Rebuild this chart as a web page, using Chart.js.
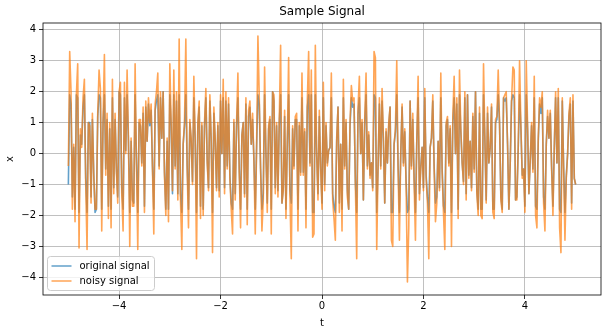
<!DOCTYPE html>
<html lang="en">
<head>
    <meta charset="UTF-8">
    <title>Sample Signal</title>
    <script src="https://cdnjs.cloudflare.com/ajax/libs/Chart.js/4.4.1/chart.umd.min.js"></script>
    <style>
        body { margin: 0; background: #fff; }
    </style>
</head>
<body>
    <canvas id="signalChart" width="608" height="333"></canvas>

    <script>
        // values, one sample every ~0.026 in t
        const tStart = -5;
        const tEnd = 5;

        const noisySignal = [
            -0.4, 3.3, 2.0, -1.8, 0.3, -2.2, 1.9, 2.9, -3.05, 0.8, 0.2, 1.8, 2.4, -1.0, -3.1, 1.0, 0.9, -1.6, 1.3, -0.7,
            -1.8, -1.8, 1.3, 2.7, 2.1, -2.5, 1.1, 3.2, -0.7, 1.3, -2.1, 1.0, -2.4, 2.4, -1.3, 1.3, -0.6, -1.6, 2.0, 2.3,
            -1.3, -2.5, 2.3, 0.0, 2.7, 0.5, -3.0, 0.5, -1.7, -1.7, 2.9, -0.3, -3.1, 1.1, 1.1, -0.4, 1.5, -1.9, 1.7, 0.4, 1.8,
            1.0, 1.6, -0.5, -2.6, 1.6, 2.0, 2.6, -0.5, 2.0, 0.5, 2.0, -0.7, -2.0, 0.5, -2.2, 2.9, 1.0, -1.2, 2.7, -0.5,
            2.0, -1.5, 3.7, -1.5, -3.1, 0.3, 1.0, 3.7, -0.5, -2.4, 1.1, 0.5, -1.0, 2.5, 0.5, -3.4, 1.0, 1.7, -2.1, 1.0,
            -2.0, 1.0, 2.1, -0.3, -1.2, 1.9, 0.5, -3.2, 1.5, 0.5, -1.2, 1.0, -1.4, 1.9, 0.0, 2.4, -1.3, 2.0, -0.5, 1.8, -0.8,
            -1.8, -2.6, 1.1, -1.5, 1.0, 2.6, -0.6, -2.4, 0.6, 1.0, -1.4, 1.8, -2.3, 1.4, 1.7, 0.3, 1.3, -0.2, -2.6, 0.2,
            3.8, 1.8, -0.5, -2.5, -1.5, 2.8, 0.0, -1.9, 0.9, 1.2, -2.6, 2.0, 1.9, -1.3, 1.0, -1.4, 1.1, 3.5, -1.6, -1.2,
            1.4, -2.1, 0.3, 3.1, -1.4, -3.4, 0.9, -0.5, 1.2, 1.3, -2.5, 1.0, -0.7, 2.6, -0.7, 0.8, -2.4, 1.7, 3.3, -0.4,
            2.7, -2.7,
            -2.6, 3.5, 0.0, -1.5, 1.4, -0.5, -1.8, 2.3, -1.2, 1.0, -0.4, 0.1, 0.2, 2.6, -1.5, -2.1, -2.8, 0.5, 1.5, -1.9,
            0.3, -2.5, 2.4, -0.5, 1.1, -1.4, -1.8, 1.0, 2.2, 1.7, 1.8, -1.0, -3.4, 1.5, 2.5, 0.0, 1.1, -1.5, 1.1, 2.6,
            -0.5, 0.7, -0.8, -0.3, -1.2, 3.3, 3.1, -3.1, -0.5, 1.8, -0.5, 2.1, 0.5, -1.6, 0.8, -0.3, 1.0, 1.5, -2.8, -3.0,
            0.3, 0.8, 3.0,
            -0.5, -2.8, 0.0, 1.6, -0.4, 0.8, -1.0, -4.15, -2.4, 1.7, -0.5, 1.3, -0.9, -2.8, 0.4, 2.5, -1.5, -0.5, 0.2, -1.2,
            2.1, -0.8, -1.6, -3.4, 0.2, 0.5, 1.9, -0.5, -2.2, -1.6, 0.4, -1.2, 2.6, -0.6, -1.9, -3.1, 1.0, 1.2, -0.4, 0.9,
            -3.0, 1.2, 2.5, 0.0, 1.8, -2.1, 2.7, 0.8, -0.3, -1.0, 2.0, -1.5, 1.9, -0.8, 0.4, -1.2, 1.3, -0.6, 2.0, -1.3,
            -2.0, 1.5, -2.0,
            -2.1, 2.9, 0.5, -1.6, 1.5, -0.3, 0.2, 1.6, -1.9, -2.1, 1.1, 1.2, 2.7, 1.0, -1.5, -1.9, 1.8, 1.9, 2.0, 0.3,
            -1.8, -0.3, 1.7, 2.8, 2.7, -1.5, -1.5, 0.2, 3.0, 0.9, -0.8, -0.5, -1.9, 3.0, 0.9, -1.3, -0.2, 1.0, -0.6, 2.5,
            -2.0, -2.4, 0.5, 1.8, 1.5, 2.0, -1.6, -2.5, 0.3, 1.4, 0.5, 1.4, -0.5, -2.0, 0.2, 2.0, -0.3, 2.1, -2.4, -3.2,
            1.8, -0.5, -2.8, -0.8, 0.0, 1.3, 1.8, -1.8, 1.9, -0.8, -1.0
        ];

        const originalSignal = [
            -1.0, 1.9, 1.6, -1.4, 0.2, -1.8, 1.9, 1.8, -1.9, 0.6, 0.3, 1.5, 1.9, -0.8, -1.9, 1.0, 1.0, -1.4, 1.1, -0.6,
            -1.9, -1.8, 1.2, 1.9, 1.8, -1.8, 1.0, 1.9, -0.5, 1.1, -1.7, 0.8, -1.8, 1.8, -1.1, 1.1, -0.5, -1.4, 2.0, 1.9,
            -1.1, -1.8, 1.8, 0.1, 1.9, 0.4, -1.9, 0.4, -1.5, -1.6, 1.9, -0.2, -1.9, 1.0, 0.9, -0.3, 1.3, -1.7, 1.5, 0.4, 1.6,
            0.9, 1.4, -0.4, -1.8, 1.4, 1.7, 1.9, -0.4, 1.8, 0.5, 2.0, -0.6, -1.8, 0.4, -1.8, 1.9, 0.9, -1.3, 1.9, -0.4,
            1.7, -1.3, 1.9, -1.3, -1.9, 0.3, 0.9, 1.9, -0.4, -1.8, 1.0, 0.4, -0.9, 1.8, 0.4, -1.9, 0.9, 1.5, -1.7, 0.9,
            -1.8, 0.9, 1.8, -0.2, -1.1, 1.7, 0.4, -1.9, 1.3, 0.4, -1.1, 0.9, -1.2, 1.7, 0.0, 1.8, -1.1, 1.7, -0.4, 1.6, -0.7,
            -1.6, -1.8, 1.0, -1.3, 0.9, 1.8, -0.5, -1.8, 0.6, 1.0, -1.3, 1.6, -1.8, 1.2, 1.5, 0.3, 1.1, -0.2, -1.8, 0.2,
            1.9, 1.6, -0.5, -1.8, -1.3, 1.9, 0.0, -1.6, 0.8, 1.1, -1.8, 2.0, 1.7, -1.1, 0.9, -1.2, 1.0, 1.9, -1.6, -1.1,
            1.2, -1.8, 0.3, 1.9, -1.2, -1.6, 0.8, -0.4, 1.1, 1.1, -1.8, 0.9, -0.6, 1.8, -0.6, 0.7, -1.8, 1.5, 1.9, -0.3,
            1.9, -1.9,
            -1.9, 1.9, 0.0, -1.3, 1.2, -0.4, -1.6, 1.8, -1.0, 0.9, -0.3, 0.1, 0.2, 1.8, -1.3, -1.7, -1.9, 0.4, 1.5, -1.6,
            0.3, -1.8, 1.8, -0.4, 1.0, -1.2, -1.8, 0.9, 1.8, 1.5, 1.6, -0.9, -1.9, 1.3, 1.8, 0.0, 1.0, -1.5, 1.0, 1.9,
            -0.4, 0.6, -0.7, -0.3, -1.1, 1.9, 1.8, -1.9, -0.4, 1.6, -0.4, 1.7, 0.4, -1.6, 0.7, -0.3, 0.9, 1.5, -1.9, -1.9,
            0.3, 0.7, 1.9,
            -0.4, -1.9, 0.0, 1.5, -0.3, 0.7, -0.9, -1.9, -1.8, 1.7, -0.4, 1.1, -0.8, -1.9, 0.4, 1.8, -1.3, -0.4, 0.2, -1.1,
            1.8, -0.7, -1.4, -1.9, 0.2, 0.5, 1.7, -0.4, -1.6, -1.4, 0.4, -1.1, 1.8, -0.5, -1.7, -1.9, 0.9, 1.1, -0.3, 0.8,
            -1.9, 1.0, 1.8, 0.0, 1.6, -1.8, 1.9, 0.7, -0.3, -0.9, 1.8, -1.3, 1.9, -0.7, 0.4, -1.1, 1.2, -0.5, 2.0, -1.2,
            -1.8, 1.3, -1.8,
            -1.8, 1.9, 0.5, -1.5, 1.3, -0.3, 0.2, 1.5, -1.8, -1.8, 1.0, 1.1, 1.9, 1.0, -1.4, -1.8, 1.8, 1.7, 1.8, 0.3,
            -1.8, -0.3, 1.7, 1.9, 1.8, -1.5, -1.4, 0.2, 1.9, 0.8, -0.7, -0.5, -1.7, 1.9, 0.8, -1.3, -0.2, 0.9, -0.5, 1.8,
            -1.7, -1.8, 0.4, 1.6, 1.3, 1.8, -1.4, -1.8, 0.3, 1.2, 0.5, 1.3, -0.4, -1.7, 0.2, 1.8, -0.3, 1.8, -1.8, -1.9,
            1.7, -0.4, -1.9, -0.7, 0.0, 1.2, 1.6, -1.6, 1.7, -0.8, -1.0
        ];

        const xTicks = [-4, -2, 0, 2, 4];
        const yTicks = [-4, -3, -2, -1, 0, 1, 2, 3, 4];

        const step = (tEnd - tStart) / (noisySignal.length - 1);
        const tValues = noisySignal.map((_, i) => tStart + i * step);

        const FONT = 'DejaVu Sans';
        const minusSign = v => String(v).replace('-', '\u2212');

        // title, axes frame and legend the way matplotlib draws them
        const decorations = {
            id: 'decorations',
            afterDraw(chart) {
                const { ctx, chartArea: a } = chart;
                ctx.save();

                ctx.strokeStyle = '#000';
                ctx.lineWidth = 0.8;
                ctx.strokeRect(a.left, a.top, a.right - a.left, a.bottom - a.top);

                ctx.fillStyle = '#000';
                ctx.font = '12px "' + FONT + '"';
                ctx.textAlign = 'center';
                ctx.textBaseline = 'middle';
                ctx.fillText('Sample Signal', (a.left + a.right) / 2, 12);

                // legend box
                const bx = a.left + 4.5, by = a.bottom - 38.5, bw = 107, bh = 34, r = 3;
                ctx.beginPath();
                ctx.moveTo(bx + r, by);
                ctx.arcTo(bx + bw, by, bx + bw, by + bh, r);
                ctx.arcTo(bx + bw, by + bh, bx, by + bh, r);
                ctx.arcTo(bx, by + bh, bx, by, r);
                ctx.arcTo(bx, by, bx + bw, by, r);
                ctx.closePath();
                ctx.fillStyle = 'rgba(255,255,255,0.8)';
                ctx.fill();
                ctx.strokeStyle = '#cccccc';
                ctx.lineWidth = 1;
                ctx.stroke();

                const entries = [
                    ['original signal', 'rgba(31,119,180,0.7)'],
                    ['noisy signal', 'rgba(255,127,14,0.7)']
                ];
                ctx.font = '10px "' + FONT + '"';
                ctx.textAlign = 'left';
                entries.forEach(([label, color], i) => {
                    const y = by + 9.5 + i * 15;
                    ctx.strokeStyle = color;
                    ctx.lineWidth = 1.5;
                    ctx.beginPath();
                    ctx.moveTo(bx + 4, y);
                    ctx.lineTo(bx + 24, y);
                    ctx.stroke();
                    ctx.fillStyle = '#000';
                    ctx.fillText(label, bx + 32, y + 0.5);
                });

                ctx.restore();
            }
        };

        const ctx = document.getElementById('signalChart').getContext('2d');
        new Chart(ctx, {
            type: 'line',
            data: {
                datasets: [
                    {
                        label: 'noisy signal',
                        data: tValues.map((t, i) => ({ x: t, y: noisySignal[i] })),
                        borderColor: 'rgba(255,127,14,0.7)',
                        borderWidth: 1.6,
                        borderJoinStyle: 'round',
                        pointRadius: 0,
                        tension: 0,
                        order: 0
                    },
                    {
                        label: 'original signal',
                        data: tValues.map((t, i) => ({ x: t, y: originalSignal[i] })),
                        borderColor: 'rgba(31,119,180,0.7)',
                        borderWidth: 1.6,
                        borderJoinStyle: 'round',
                        pointRadius: 0,
                        tension: 0,
                        order: 1
                    }
                ]
            },
            options: {
                responsive: false,
                animation: false,
                devicePixelRatio: 1,
                layout: { padding: { top: 23, right: 7, bottom: 0, left: 0 } },
                plugins: {
                    legend: { display: false },
                    tooltip: { enabled: false }
                },
                scales: {
                    x: {
                        type: 'linear',
                        min: -5.5,
                        max: 5.5,
                        afterFit: scale => { scale.height = 38; },
                        afterBuildTicks: scale => { scale.ticks = xTicks.map(v => ({ value: v })); },
                        border: { display: false },
                        grid: { color: '#b0b0b0', lineWidth: 0.8, tickColor: '#000', tickLength: 4 },
                        ticks: {
                            padding: 1,
                            color: '#000',
                            font: { family: FONT, size: 10 },
                            maxRotation: 0,
                            callback: v => minusSign(v)
                        },
                        title: { display: true, text: 't', color: '#000', font: { family: FONT, size: 10 } }
                    },
                    y: {
                        min: -4.57,
                        max: 4.22,
                        afterFit: scale => { scale.width = 43; },
                        afterBuildTicks: scale => { scale.ticks = yTicks.map(v => ({ value: v })); },
                        border: { display: false },
                        grid: { color: '#b0b0b0', lineWidth: 0.8, tickColor: '#000', tickLength: 4 },
                        ticks: {
                            padding: 3,
                            color: '#000',
                            font: { family: FONT, size: 10 },
                            callback: v => minusSign(v)
                        },
                        title: { display: true, text: 'x', color: '#000', font: { family: FONT, size: 10 } }
                    }
                }
            },
            plugins: [decorations]
        });
    </script>
</body>
</html>
